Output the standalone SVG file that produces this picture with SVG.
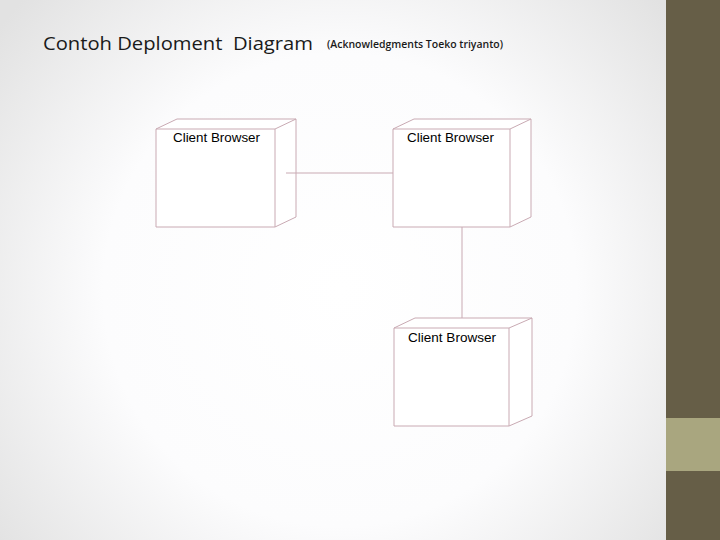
<svg xmlns="http://www.w3.org/2000/svg" width="720" height="540" viewBox="0 0 720 540">
<defs>
<radialGradient id="bg" cx="340" cy="290" r="430" gradientUnits="userSpaceOnUse">
<stop offset="0" stop-color="#ffffff"/>
<stop offset="0.55" stop-color="#fcfcfd"/>
<stop offset="1" stop-color="#e2e2e2"/>
</radialGradient>
<style>
.box{fill:#ffffff;stroke:#c9aab3;stroke-width:1}
.conn{stroke:#c9aab3;stroke-width:1;fill:none}
.lbl{font-family:"Liberation Sans",Arial,sans-serif;font-size:12.5px;fill:#000000}
.title{font-family:"Open Sans","Liberation Sans",sans-serif;font-size:18px;fill:#1a1a1a}
.sub{font-family:"Open Sans","Liberation Sans",sans-serif;font-size:10px;font-weight:600;fill:#1a1a1a}
</style>
</defs>
<rect x="0" y="0" width="720" height="540" fill="url(#bg)"/>
<rect x="666" y="0" width="54" height="540" fill="#665e47"/>
<rect x="666" y="418" width="54" height="53" fill="#a9a67f"/>
<text class="title" x="43" y="50" xml:space="preserve" textLength="270" lengthAdjust="spacingAndGlyphs">Contoh Deploment  Diagram</text>
<text class="sub" x="327" y="48" textLength="176" lengthAdjust="spacingAndGlyphs">(Acknowledgments Toeko triyanto)</text>
<g id="node1">
<path class="box" d="M156,129 L177,119 L296,119 L296,217 L275,227 L156,227 Z"/>
<path class="conn" d="M156,129 L275,129 L296,119 M275,129 L275,227"/>
<text class="lbl" x="173" y="142" textLength="87" lengthAdjust="spacingAndGlyphs">Client Browser</text>
</g>
<g id="node2">
<path class="box" d="M393,129 L414,119 L531,119 L531,217 L510,227 L393,227 Z"/>
<path class="conn" d="M393,129 L510,129 L531,119 M510,129 L510,227"/>
<text class="lbl" x="407" y="142" textLength="87" lengthAdjust="spacingAndGlyphs">Client Browser</text>
</g>
<g id="node3">
<path class="box" d="M394,328 L415,318 L532,318 L532,416 L509,426 L394,426 Z"/>
<path class="conn" d="M394,328 L509,328 L532,318 M509,328 L509,426"/>
<text class="lbl" x="408" y="342" textLength="88" lengthAdjust="spacingAndGlyphs">Client Browser</text>
</g>
<g id="connectors">
<line class="conn" x1="286" y1="173" x2="393" y2="173"/>
<line class="conn" x1="462" y1="227" x2="462" y2="318"/>
</g>
</svg>
